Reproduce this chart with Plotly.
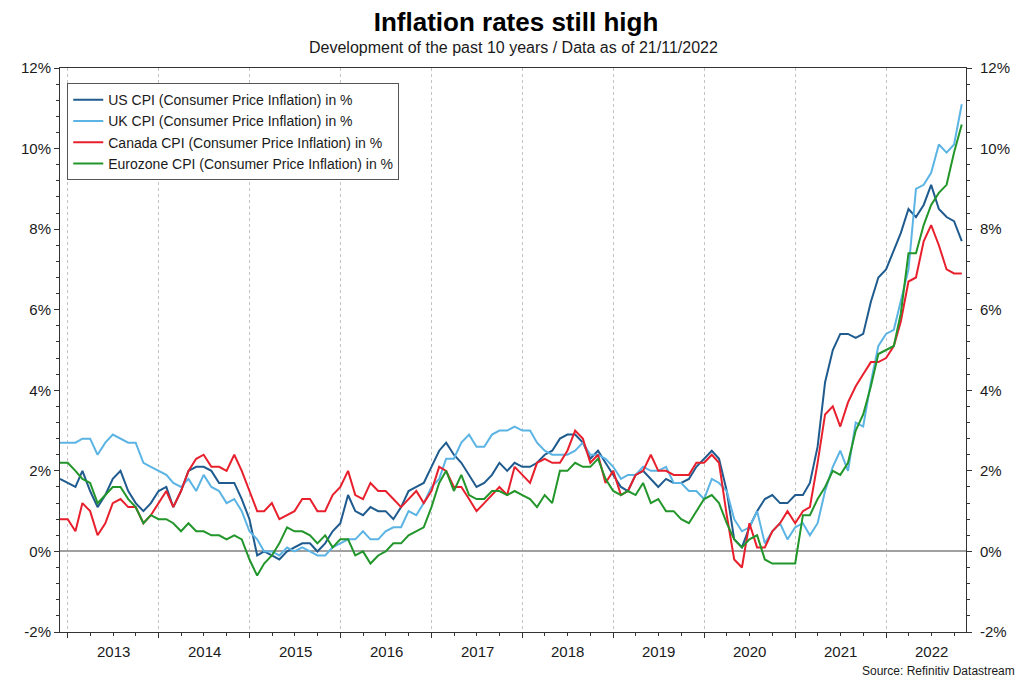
import pandas as pd
import plotly.graph_objects as go

# Monthly observations, Nov 2012 .. Oct 2022 (month-end dates)
start_month = "2012-11-01"
n_months = 120

us_cpi = [1.8, 1.7,
          1.6, 2.0, 1.5, 1.1, 1.4, 1.8, 2.0, 1.5, 1.2, 1.0, 1.2, 1.5,
          1.6, 1.1, 1.5, 2.0, 2.1, 2.1, 2.0, 1.7, 1.7, 1.7, 1.3, 0.8,
          -0.1, 0.0, -0.1, -0.2, 0.0, 0.1, 0.2, 0.2, 0.0, 0.2, 0.5, 0.7,
          1.4, 1.0, 0.9, 1.1, 1.0, 1.0, 0.8, 1.1, 1.5, 1.6, 1.7, 2.1,
          2.5, 2.7, 2.4, 2.2, 1.9, 1.6, 1.7, 1.9, 2.2, 2.0, 2.2, 2.1,
          2.1, 2.2, 2.4, 2.5, 2.8, 2.9, 2.9, 2.7, 2.3, 2.5, 2.2, 1.9,
          1.6, 1.5, 1.9, 2.0, 1.8, 1.6, 1.8, 1.7, 1.7, 1.8, 2.1, 2.3,
          2.5, 2.3, 1.5, 0.3, 0.1, 0.6, 1.0, 1.3, 1.4, 1.2, 1.2, 1.4,
          1.4, 1.7, 2.6, 4.2, 5.0, 5.4, 5.4, 5.3, 5.4, 6.2, 6.8, 7.0,
          7.5, 7.9, 8.5, 8.3, 8.6, 9.1, 8.5, 8.3, 8.2, 7.7]

uk_cpi = [2.7, 2.7,
          2.7, 2.8, 2.8, 2.4, 2.7, 2.9, 2.8, 2.7, 2.7, 2.2, 2.1, 2.0,
          1.9, 1.7, 1.6, 1.8, 1.5, 1.9, 1.6, 1.5, 1.2, 1.3, 1.0, 0.5,
          0.3, 0.0, 0.0, -0.1, 0.1, 0.0, 0.1, 0.0, -0.1, -0.1, 0.1, 0.2,
          0.3, 0.3, 0.5, 0.3, 0.3, 0.5, 0.6, 0.6, 1.0, 0.9, 1.2, 1.6,
          1.8, 2.3, 2.3, 2.7, 2.9, 2.6, 2.6, 2.9, 3.0, 3.0, 3.1, 3.0,
          3.0, 2.7, 2.5, 2.4, 2.4, 2.4, 2.5, 2.7, 2.4, 2.4, 2.3, 2.1,
          1.8, 1.9, 1.9, 2.1, 2.0, 2.0, 2.1, 1.7, 1.7, 1.5, 1.5, 1.3,
          1.8, 1.7, 1.5, 0.8, 0.5, 0.6, 1.0, 0.2, 0.5, 0.7, 0.3, 0.6,
          0.7, 0.4, 0.7, 1.5, 2.1, 2.5, 2.0, 3.2, 3.1, 4.2, 5.1, 5.4,
          5.5, 6.2, 7.0, 9.0, 9.1, 9.4, 10.1, 9.9, 10.1, 11.1]

canada_cpi = [0.8, 0.8,
              0.5, 1.2, 1.0, 0.4, 0.7, 1.2, 1.3, 1.1, 1.1, 0.7, 0.9, 1.2,
              1.5, 1.1, 1.5, 2.0, 2.3, 2.4, 2.1, 2.1, 2.0, 2.4, 2.0, 1.5,
              1.0, 1.0, 1.2, 0.8, 0.9, 1.0, 1.3, 1.3, 1.0, 1.0, 1.4, 1.6,
              2.0, 1.4, 1.3, 1.7, 1.5, 1.5, 1.3, 1.1, 1.3, 1.5, 1.2, 1.5,
              2.1, 2.0, 1.6, 1.6, 1.3, 1.0, 1.2, 1.4, 1.6, 1.4, 2.1, 1.9,
              1.7, 2.2, 2.3, 2.2, 2.2, 2.5, 3.0, 2.8, 2.2, 2.4, 1.7, 2.0,
              1.4, 1.5, 1.9, 2.0, 2.4, 2.0, 2.0, 1.9, 1.9, 1.9, 2.2, 2.2,
              2.4, 2.2, 0.9, -0.2, -0.4, 0.7, 0.1, 0.1, 0.5, 0.7, 1.0, 0.7,
              1.0, 1.1, 2.2, 3.4, 3.6, 3.1, 3.7, 4.1, 4.4, 4.7, 4.7, 4.8,
              5.1, 5.7, 6.7, 6.8, 7.7, 8.1, 7.6, 7.0, 6.9, 6.9]

eurozone_cpi = [2.2, 2.2,
                2.0, 1.8, 1.7, 1.2, 1.4, 1.6, 1.6, 1.3, 1.1, 0.7, 0.9, 0.8,
                0.8, 0.7, 0.5, 0.7, 0.5, 0.5, 0.4, 0.4, 0.3, 0.4, 0.3, -0.2,
                -0.6, -0.3, -0.1, 0.2, 0.6, 0.5, 0.5, 0.4, 0.2, 0.4, 0.1, 0.3,
                0.3, -0.1, 0.0, -0.3, -0.1, 0.0, 0.2, 0.2, 0.4, 0.5, 0.6, 1.1,
                1.7, 2.0, 1.5, 1.9, 1.4, 1.3, 1.3, 1.5, 1.5, 1.4, 1.5, 1.4,
                1.3, 1.1, 1.4, 1.2, 2.0, 2.0, 2.2, 2.1, 2.1, 2.3, 1.8, 1.5,
                1.4, 1.5, 1.4, 1.7, 1.2, 1.3, 1.0, 1.0, 0.8, 0.7, 1.0, 1.3,
                1.4, 1.2, 0.7, 0.3, 0.1, 0.3, 0.4, -0.2, -0.3, -0.3, -0.3, -0.3,
                0.9, 0.9, 1.3, 1.6, 2.0, 1.9, 2.2, 3.0, 3.4, 4.1, 4.9, 5.0,
                5.1, 5.9, 7.4, 7.4, 8.1, 8.6, 8.9, 9.1, 9.9, 10.6]

series_names = ["US CPI (Consumer Price Inflation) in %",
                "UK CPI (Consumer Price Inflation) in %",
                "Canada CPI (Consumer Price Inflation) in %",
                "Eurozone CPI (Consumer Price Inflation) in %"]
series_colors = ["#1f5b8e", "#5cb4e4", "#e8202d", "#22962a"]

year_labels = ["2013", "2014", "2015", "2016", "2017", "2018",
               "2019", "2020", "2021", "2022"]
y_tick_values = [-2, 0, 2, 4, 6, 8, 10, 12]

dates = pd.date_range(start_month, periods=n_months, freq="MS") + pd.offsets.MonthEnd(0)

FONT = "Liberation Sans, Arial, Helvetica, sans-serif"
TXT = "#1a1a1a"

# The page body has an 8px margin, so the figure is sized to fit the window.
FIG_W, FIG_H = 1016, 673

fig = go.Figure()
for name, vals, col in zip(series_names, [us_cpi, uk_cpi, canada_cpi, eurozone_cpi], series_colors):
    fig.add_trace(go.Scatter(x=dates, y=vals, mode="lines", name=name,
                             line=dict(color=col, width=2)))

year_starts = [f"{y}-01-01" for y in year_labels]
mid_years = [f"{y}-07-02" for y in year_labels]
quarters = [f"{y}-{m:02d}-01" for y in year_labels for m in (4, 7, 10)]
x_range = ["2012-11-30", "2022-11-17"]
y_range = [-2, 12]

yaxis_common = dict(
    range=y_range, tickvals=y_tick_values,
    ticktext=[f"{v}%" for v in y_tick_values],
    ticks="outside", ticklen=5, tickcolor="#333", tickwidth=1,
    showgrid=False, showline=True, linecolor="#333", linewidth=1,
    tickfont=dict(family=FONT, size=15, color=TXT),
    minor=dict(dtick=0.4, tick0=0, ticks="outside", ticklen=3, tickcolor="#333", showgrid=False),
)

fig.update_layout(
    width=FIG_W, height=FIG_H,
    paper_bgcolor="white", plot_bgcolor="white",
    margin=dict(l=52, r=58, t=60, b=49),
    font=dict(family=FONT, color=TXT),
    title=dict(text="<b>Inflation rates still high</b>", x=0.5, xanchor="center",
               y=1 - 14 / FIG_H, yanchor="middle",
               font=dict(family=FONT, size=26, color="#000")),
    xaxis=dict(
        range=x_range, type="date",
        tickvals=year_starts, ticktext=[""] * len(year_starts),
        ticks="outside", ticklen=5, tickcolor="#333",
        showgrid=True, gridcolor="#c4c4c4", griddash="dot", gridwidth=1,
        showline=True, linecolor="#333", linewidth=1, mirror=True,
        zeroline=False,
        minor=dict(tickvals=quarters, ticks="outside", ticklen=3, tickcolor="#333", showgrid=False),
    ),
    yaxis=dict(**yaxis_common, side="left", zeroline=True, zerolinecolor="#a0a0a0", zerolinewidth=1.5),
    yaxis2=dict(**yaxis_common, side="right", overlaying="y", matches="y", anchor="x",
                zeroline=False, ticklabelstandoff=5),
    legend=dict(x=0.008, y=0.973, xanchor="left", yanchor="top",
                bgcolor="white", bordercolor="#555", borderwidth=1,
                font=dict(family=FONT, size=14, color=TXT),
                tracegroupgap=0),
    showlegend=True,
)

# a hidden trace on the right axis so that it is drawn with its ticks
fig.add_trace(go.Scatter(x=[dates[0]], y=[us_cpi[0]], yaxis="y2", mode="lines",
                         line=dict(width=0), showlegend=False, hoverinfo="skip",
                         opacity=0))

for lab, xm in zip(year_labels, mid_years):
    fig.add_annotation(text=lab, xref="x", yref="paper", x=xm, y=0,
                       xanchor="center", yanchor="top", yshift=-9, showarrow=False,
                       font=dict(family=FONT, size=15, color=TXT))

fig.add_annotation(text="Development of the past 10 years / Data as of 21/11/2022",
                   xref="paper", yref="paper", x=0.5, y=(632 - 47) / 564,
                   xanchor="center", yanchor="middle", showarrow=False,
                   font=dict(family=FONT, size=16, color=TXT))
fig.add_annotation(text="Source: Refinitiv Datastream",
                   xref="paper", yref="paper", x=(1017 - 60) / 906, y=(632 - 671) / 564,
                   xanchor="right", yanchor="middle", showarrow=False,
                   font=dict(family=FONT, size=12, color=TXT))

fig.write_html("out.html")
